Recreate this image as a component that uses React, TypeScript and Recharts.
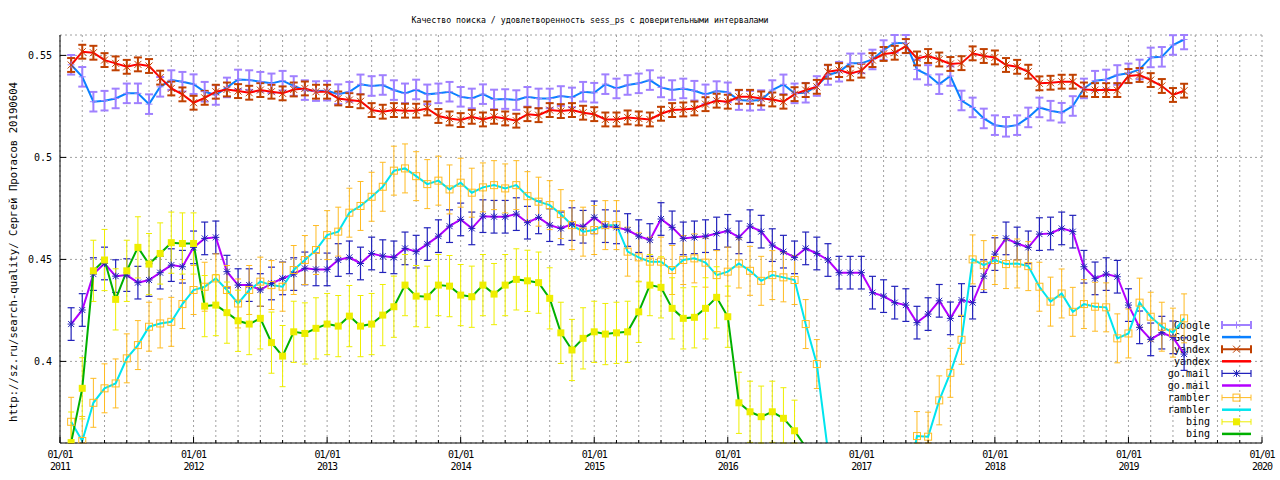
import { LineChart, Line, XAxis, YAxis, CartesianGrid, ErrorBar } from 'recharts';

const chartTitle = 'Качество поиска / удовлетворенность sess_ps с доверительными интервалами';
const sideLabel = 'http://sz.ru/search-quality/ Сергей Протасов 20190604';

// x = months since 01/01/2011, the first point is 01/02/2011
const firstMonth = 1;
const lastMonth = 108;
const yearLabels = ['2011', '2012', '2013', '2014', '2015', '2016', '2017', '2018', '2019', '2020'];
const dayLabel = '01/01';
const yTicks = [0.4, 0.45, 0.5, 0.55];
const yMin = 0.36;
const yMax = 0.56;

const google = [
  0.5454, 0.5395, 0.5273, 0.5278, 0.5289, 0.5314, 0.5314, 0.5261, 0.5346, 0.5379,
  0.5371, 0.5359, 0.5322, 0.5306, 0.5343, 0.5382, 0.5379, 0.5371, 0.5363, 0.5376,
  0.5350, 0.5330, 0.5325, 0.5327, 0.5310, 0.5322, 0.5358, 0.5350, 0.5355, 0.5330,
  0.5314, 0.5333, 0.5309, 0.5314, 0.5322, 0.5297, 0.5289, 0.5310, 0.5284, 0.5286,
  0.5281, 0.5297, 0.5289, 0.5289, 0.5301, 0.5294, 0.5322, 0.5317, 0.5359, 0.5338,
  0.5355, 0.5363, 0.5379, 0.5343, 0.5330, 0.5338, 0.5327, 0.5309, 0.5325, 0.5319,
  0.5281, 0.5278, 0.5281, 0.5330, 0.5358, 0.5314, 0.5317, 0.5350, 0.5404, 0.5420,
  0.5461, 0.5461, 0.5480, 0.5526, 0.5562, 0.5559, 0.5431, 0.5404, 0.5359, 0.5399,
  0.5279, 0.5245, 0.5191, 0.5158, 0.5150, 0.5158, 0.5196, 0.5245, 0.5229, 0.5219,
  0.5252, 0.5338, 0.5376, 0.5382, 0.5404, 0.5412, 0.5431, 0.5490, 0.5493, 0.5551,
  0.5578,
];

const yandex = [
  0.5453, 0.5518, 0.5513, 0.5477, 0.5461, 0.5444, 0.5456, 0.5448, 0.5391, 0.5338,
  0.5309, 0.5268, 0.5292, 0.5322, 0.5333, 0.5325, 0.5317, 0.5330, 0.5322, 0.5314,
  0.5333, 0.5338, 0.5322, 0.5322, 0.5289, 0.5281, 0.5275, 0.5232, 0.5224, 0.5232,
  0.5229, 0.5229, 0.5240, 0.5203, 0.5191, 0.5183, 0.5199, 0.5186, 0.5199, 0.5191,
  0.5180, 0.5212, 0.5207, 0.5232, 0.5227, 0.5232, 0.5219, 0.5212, 0.5186, 0.5186,
  0.5196, 0.5191, 0.5186, 0.5214, 0.5232, 0.5235, 0.5240, 0.5261, 0.5278, 0.5273,
  0.5297, 0.5297, 0.5289, 0.5284, 0.5273, 0.5310, 0.5330, 0.5346, 0.5420, 0.5428,
  0.5412, 0.5425, 0.5477, 0.5507, 0.5513, 0.5546, 0.5485, 0.5497, 0.5480, 0.5458,
  0.5462, 0.5510, 0.5497, 0.5490, 0.5453, 0.5444, 0.5420, 0.5363, 0.5366, 0.5371,
  0.5371, 0.5333, 0.5330, 0.5330, 0.5330, 0.5399, 0.5404, 0.5379, 0.5350, 0.5306,
  0.5327,
];

const gomail = [
  0.4183, 0.4252, 0.4428, 0.4480, 0.4418, 0.4423, 0.4386, 0.4399, 0.4435, 0.4472,
  0.4464, 0.4559, 0.4603, 0.4608, 0.4440, 0.4374, 0.4374, 0.4350, 0.4382, 0.4407,
  0.4428, 0.4456, 0.4451, 0.4451, 0.4497, 0.4510, 0.4480, 0.4529, 0.4516, 0.4510,
  0.4554, 0.4538, 0.4575, 0.4614, 0.4663, 0.4696, 0.4652, 0.4712, 0.4709, 0.4709,
  0.4722, 0.4680, 0.4706, 0.4668, 0.4652, 0.4673, 0.4660, 0.4706, 0.4663, 0.4657,
  0.4644, 0.4614, 0.4595, 0.4698, 0.4657, 0.4603, 0.4608, 0.4614, 0.4627, 0.4640,
  0.4608, 0.4663, 0.4636, 0.4570, 0.4538, 0.4510, 0.4554, 0.4529, 0.4497, 0.4435,
  0.4435, 0.4435, 0.4337, 0.4320, 0.4288, 0.4276, 0.4190, 0.4232, 0.4297, 0.4211,
  0.4301, 0.4288, 0.4418, 0.4526, 0.4603, 0.4578, 0.4559, 0.4624, 0.4627, 0.4652,
  0.4636, 0.4464, 0.4407, 0.4428, 0.4415, 0.4276, 0.4167, 0.4108, 0.4141, 0.4118,
  0.4036,
];

const rambler = [
  0.3704, 0.3610, 0.3797, 0.3868, 0.3892, 0.4015, 0.4080, 0.4170, 0.4186, 0.4194,
  0.4281, 0.4350, 0.4366, 0.4407, 0.4350, 0.4284, 0.4350, 0.4391, 0.4374, 0.4366,
  0.4448, 0.4497, 0.4546, 0.4619, 0.4636, 0.4729, 0.4762, 0.4807, 0.4856, 0.4935,
  0.4946, 0.4908, 0.4869, 0.4886, 0.4843, 0.4876, 0.4827, 0.4853, 0.4864, 0.4848,
  0.4864, 0.4810, 0.4783, 0.4766, 0.4722, 0.4668, 0.4636, 0.4644, 0.4668, 0.4668,
  0.4538, 0.4510, 0.4489, 0.4489, 0.4448, 0.4497, 0.4505, 0.4484, 0.4423, 0.4440,
  0.4480, 0.4444, 0.4395, 0.4423, 0.4412, 0.4399, 0.4183, 0.3987, 0.3560, 0.3400,
  0.3300, 0.3300, 0.3300, 0.3300, 0.3300, 0.3350, 0.3634, 0.3631, 0.3809, 0.3944,
  0.4106, 0.4500, 0.4472, 0.4497, 0.4477, 0.4480, 0.4467, 0.4366, 0.4293, 0.4333,
  0.4243, 0.4281, 0.4268, 0.4265, 0.4113, 0.4137, 0.4288, 0.4219, 0.4170, 0.4141,
  0.4211,
];

const bing = [
  0.3602, 0.3868, 0.4444, 0.4497, 0.4304, 0.4444, 0.4559, 0.4477, 0.4529, 0.4582,
  0.4578, 0.4578, 0.4271, 0.4276, 0.4239, 0.4199, 0.4183, 0.4211, 0.4092, 0.4026,
  0.4145, 0.4137, 0.4162, 0.4183, 0.4173, 0.4222, 0.4173, 0.4183, 0.4227, 0.4268,
  0.4374, 0.4320, 0.4317, 0.4374, 0.4369, 0.4325, 0.4317, 0.4374, 0.4330, 0.4374,
  0.4402, 0.4395, 0.4386, 0.4309, 0.4140, 0.4056, 0.4113, 0.4145, 0.4134, 0.4140,
  0.4145, 0.4243, 0.4374, 0.4363, 0.4260, 0.4211, 0.4216, 0.4260, 0.4314, 0.4219,
  0.3797, 0.3753, 0.3729, 0.3753, 0.3721, 0.3660, 0.3580, 0.3400,
];

// half-widths of the confidence intervals
const googleErr = 0.0048;
const yandexErr = 0.0034;
const gomailErr = 0.008;
const ramblerErr = 0.012;
const bingErr = 0.015;

const FONT = '"DejaVu Sans Mono", "Liberation Mono", monospace';

type Kind = 'plus' | 'cross' | 'star' | 'box' | 'fbox';

type Series = {
  name: string;
  key: string;
  values: number[];
  err: number;
  barColor: string;
  barWidth: number;
  cap: number;
  lineColor: string;
  marker: Kind;
};

const series: Series[] = [
  { name: 'Google', key: 'google', values: google, err: googleErr, barColor: '#a080ff', barWidth: 2, cap: 4, lineColor: '#0a80ff', marker: 'plus' },
  { name: 'yandex', key: 'yandex', values: yandex, err: yandexErr, barColor: '#c04000', barWidth: 2, cap: 4, lineColor: '#ff0000', marker: 'cross' },
  { name: 'go.mail', key: 'gomail', values: gomail, err: gomailErr, barColor: '#2222bb', barWidth: 1.2, cap: 3.5, lineColor: '#b400ff', marker: 'star' },
  { name: 'rambler', key: 'rambler', values: rambler, err: ramblerErr, barColor: '#ffbb22', barWidth: 1, cap: 3, lineColor: '#00e5ee', marker: 'box' },
  { name: 'bing', key: 'bing', values: bing, err: bingErr, barColor: '#eeee00', barWidth: 1, cap: 3, lineColor: '#00b000', marker: 'fbox' },
];

// like gnuplot: no bar for points outside the y range, and bars are cut at the border
const data = google.map((_, i) => {
  const row: Record<string, any> = { m: firstMonth + i };
  series.forEach((s) => {
    const v = s.values[i];
    row[s.key] = v ?? null;
    row[s.key + 'Err'] =
      v != null && v >= yMin ? [Math.min(s.err, v - yMin), Math.min(s.err, yMax - v)] : null;
  });
  return row;
});

const xTicks = Array.from({ length: lastMonth / 2 + 1 }, (_, i) => i * 2);

function Marker({ kind, cx, cy, color }: { kind: Kind; cx: number; cy: number; color: string }) {
  const r = 3.5;
  if (kind === 'plus')
    return <path d={`M${cx - r},${cy}H${cx + r}M${cx},${cy - r}V${cy + r}`} stroke={color} strokeWidth={1} fill="none" />;
  if (kind === 'cross')
    return <path d={`M${cx - r},${cy - r}L${cx + r},${cy + r}M${cx - r},${cy + r}L${cx + r},${cy - r}`} stroke={color} strokeWidth={1} fill="none" />;
  if (kind === 'star')
    return (
      <path
        d={`M${cx - r},${cy}H${cx + r}M${cx},${cy - r}V${cy + r}M${cx - 3},${cy - 3}L${cx + 3},${cy + 3}M${cx - 3},${cy + 3}L${cx + 3},${cy - 3}`}
        stroke={color}
        strokeWidth={1}
        fill="none"
      />
    );
  if (kind === 'box')
    return <rect x={cx - r} y={cy - r} width={r * 2} height={r * 2} stroke={color} strokeWidth={1} fill="none" />;
  return <rect x={cx - r} y={cy - r} width={r * 2} height={r * 2} fill={color} stroke="none" />;
}

const makeDot = (s: Series) => (p: any) => {
  if (p.value == null || p.value < yMin || p.cx == null || p.cy == null) return <g key={p.index} />;
  return (
    <g key={p.index}>
      <Marker kind={s.marker} cx={p.cx} cy={p.cy} color={s.barColor} />
    </g>
  );
};

const BottomTick = (props: any) => {
  const { x, y, payload } = props;
  const major = payload.value % 12 === 0;
  return (
    <g>
      <line x1={x} x2={x} y1={y} y2={y - (major ? 6 : 3)} stroke="#000" />
      {major && (
        <text x={x} y={y + 15} textAnchor="middle" fontFamily={FONT} fontSize={10} letterSpacing={-1} fill="#000">
          {dayLabel}
        </text>
      )}
      {major && (
        <text x={x} y={y + 27} textAnchor="middle" fontFamily={FONT} fontSize={10} letterSpacing={-1} fill="#000">
          {yearLabels[payload.value / 12]}
        </text>
      )}
    </g>
  );
};

const TopTick = (props: any) => {
  const { x, y, payload } = props;
  const major = payload.value % 12 === 0;
  return <line x1={x} x2={x} y1={y} y2={y + (major ? 6 : 3)} stroke="#000" />;
};

const LeftTick = (props: any) => {
  const { x, y, payload } = props;
  return (
    <g>
      <line x1={x} x2={x + 6} y1={y} y2={y} stroke="#000" />
      <text x={x - 8} y={y} dy={3.5} textAnchor="end" fontFamily={FONT} fontSize={10} fill="#000">
        {payload.value}
      </text>
    </g>
  );
};

const RightTick = (props: any) => {
  const { x, y } = props;
  return <line x1={x} x2={x - 6} y1={y} y2={y} stroke="#000" />;
};

function LegendBlock() {
  const rows: { label: string; s: Series; bars: boolean }[] = [];
  series.forEach((s) => {
    rows.push({ label: s.name, s, bars: true });
    rows.push({ label: s.name, s, bars: false });
  });
  const x0 = 1222;
  const x1 = 1251;
  return (
    <g>
      {rows.map((r, i) => {
        const y = 325 + i * 12.1;
        return (
          <g key={i}>
            <text x={1210} y={y} dy={3.5} textAnchor="end" fontFamily={FONT} fontSize={10} fill="#000">
              {r.label}
            </text>
            {r.bars ? (
              <g>
                <path
                  d={`M${x0},${y}H${x1}M${x0},${y - r.s.cap}V${y + r.s.cap}M${x1},${y - r.s.cap}V${y + r.s.cap}`}
                  stroke={r.s.barColor}
                  strokeWidth={r.s.barWidth}
                  fill="none"
                />
                <Marker kind={r.s.marker} cx={(x0 + x1) / 2} cy={y} color={r.s.barColor} />
              </g>
            ) : (
              <line x1={x0} x2={x1} y1={y} y2={y} stroke={r.s.lineColor} strokeWidth={2.5} />
            )}
          </g>
        );
      })}
    </g>
  );
}

export default function App() {
  return (
    <div style={{ position: 'absolute', left: 0, top: 0, background: '#fff' }}>
      <LineChart width={1280} height={480} data={data} margin={{ top: 35, right: 18, bottom: 0, left: 10 }}>
        <CartesianGrid stroke="#a0a0a0" strokeDasharray="2 3" />
        <XAxis
          dataKey="m"
          type="number"
          domain={[0, lastMonth]}
          ticks={xTicks}
          interval={0}
          allowDataOverflow
          height={37}
          tickSize={0}
          tickMargin={0}
          tickLine={false}
          axisLine={{ stroke: '#000' }}
          tick={<BottomTick />}
        />
        <XAxis
          xAxisId="top"
          orientation="top"
          type="number"
          domain={[0, lastMonth]}
          ticks={xTicks}
          interval={0}
          allowDataOverflow
          height={0}
          tickSize={0}
          tickMargin={0}
          tickLine={false}
          axisLine={{ stroke: '#000' }}
          tick={<TopTick />}
        />
        <YAxis
          type="number"
          domain={[yMin, yMax]}
          ticks={yTicks}
          interval={0}
          allowDataOverflow
          width={50}
          tickSize={0}
          tickMargin={0}
          tickLine={false}
          axisLine={{ stroke: '#000' }}
          tick={<LeftTick />}
        />
        <YAxis
          yAxisId="right"
          orientation="right"
          type="number"
          domain={[yMin, yMax]}
          ticks={yTicks}
          interval={0}
          allowDataOverflow
          width={0}
          tickSize={0}
          tickMargin={0}
          tickLine={false}
          axisLine={{ stroke: '#000' }}
          tick={<RightTick />}
        />
        {series.map((s) => [
          <Line
            key={s.key + '-bars'}
            dataKey={s.key}
            stroke="none"
            dot={makeDot(s)}
            activeDot={false}
            legendType="none"
            isAnimationActive={false}
          >
            <ErrorBar dataKey={s.key + 'Err'} width={s.cap} stroke={s.barColor} strokeWidth={s.barWidth} direction="y" isAnimationActive={false} />
          </Line>,
          <Line
            key={s.key + '-line'}
            dataKey={s.key}
            stroke={s.lineColor}
            strokeWidth={2}
            dot={false}
            activeDot={false}
            isAnimationActive={false}
          />,
        ])}
        <text x={590} y={19} dy={3.5} textAnchor="middle" fontFamily={FONT} fontSize={9.5} textLength={357} lengthAdjust="spacingAndGlyphs" fill="#000">
          {chartTitle}
        </text>
        <text
          transform="translate(13,252) rotate(-90)"
          textAnchor="middle"
          dy={3.5}
          fontFamily={FONT}
          fontSize={10}
          textLength={340}
          lengthAdjust="spacingAndGlyphs"
          fill="#000"
        >
          {sideLabel}
        </text>
        <LegendBlock />
      </LineChart>
    </div>
  );
}
